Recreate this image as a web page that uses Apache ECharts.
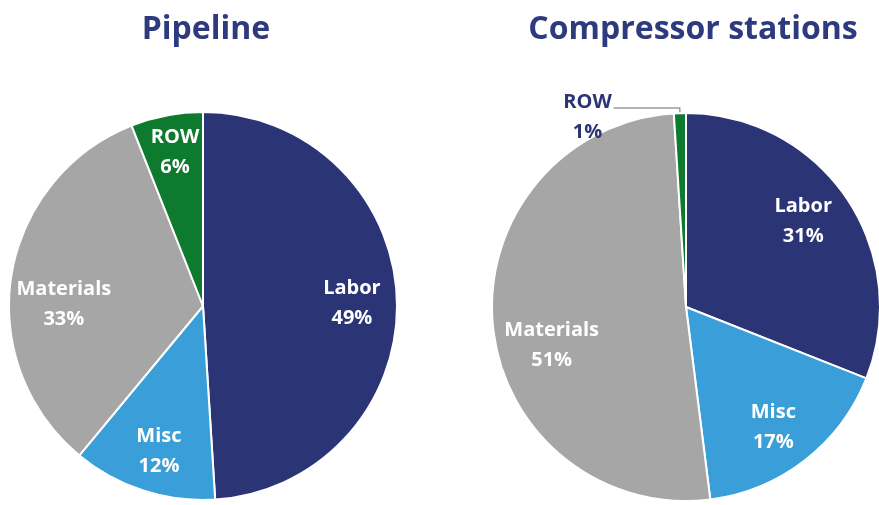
<!DOCTYPE html>
<html>
<head>
<meta charset="utf-8">
<script src="https://cdn.jsdelivr.net/npm/echarts@6/dist/echarts.min.js"></script>
<style>html,body{margin:0;padding:0;background:#fff}#c{width:879px;height:505px}</style>
</head>
<body>
<div id="c"></div>
<script>
const categories = ['Labor', 'Misc', 'Materials', 'ROW'];
const pipelineValues = [49, 12, 33, 6];
const compressorValues = [31, 17, 51, 1];
const titles = ['Pipeline', 'Compressor stations'];
const colors = ['#2B3576', '#3A9FD8', '#A6A6A6', '#0E7A2E'];

const font = '"Open Sans", "Noto Sans", sans-serif';
const R = 194;
const centers = [[203, 306], [686, 307]];
// small label nudges (pixels) per pie, per category index
const nudges = [
  [[0, 2], [2, 4], [8, 22], [0, -7]],
  [[-6, -2], [-4, 3], [14, 24], [0, 0]]
];

function mainSeries(values, idx) {
  return {
    type: 'pie',
    center: centers[idx],
    radius: [0, R],
    startAngle: 90,
    clockwise: true,
    avoidLabelOverlap: false,
    silent: true,
    itemStyle: { borderColor: '#fff', borderWidth: 2 },
    label: { show: false },
    labelLine: { show: false },
    data: categories.map((c, i) => {
      const d = { name: c, value: values[i], itemStyle: { color: colors[i] } };
      if (idx === 1 && c === 'ROW') {
        d.label = {
          show: true, position: 'outside', color: '#2B3576', fontWeight: 'bold',
          fontFamily: font, fontSize: 20, lineHeight: 30,
          formatter: p => '{a|' + p.name + '}\n{a|' + p.value + '%}',
          rich: { a: { align: 'center', color: '#2B3576', fontWeight: 'bold', fontFamily: font, fontSize: 20, lineHeight: 30 } },
          padding: [18, 0, 0, 0],
          distanceToLabelLine: 2
        };
        d.labelLine = { show: true, length: 5, length2: 66, lineStyle: { color: '#999', width: 1.5 } };
      }
      return d;
    })
  };
}

function labelSeries(values, idx) {
  return {
    type: 'pie',
    center: centers[idx],
    radius: [98, R],
    startAngle: 90,
    clockwise: true,
    avoidLabelOverlap: false,
    silent: true,
    itemStyle: { color: 'rgba(0,0,0,0)', borderWidth: 0 },
    label: {
      show: true, position: 'inside', color: '#fff', fontWeight: 'bold',
      fontFamily: font, fontSize: 20, lineHeight: 30,
      formatter: p => p.name + '\n' + p.value + '%'
    },
    labelLine: { show: false },
    labelLayout: function (p) {
      const n = nudges[idx][p.dataIndex];
      return { dx: n[0], dy: n[1] };
    },
    data: categories.map((c, i) => {
      const d = { name: c, value: values[i] };
      if (idx === 1 && c === 'ROW') d.label = { show: false };
      return d;
    })
  };
}

const chart = echarts.init(document.getElementById('c'));
chart.setOption({
  animation: false,
  title: [
    { text: titles[0], left: 201, top: 9, textAlign: 'center',
      textStyle: { color: '#2E3A7E', fontSize: 32, fontWeight: 'bold', fontFamily: font } },
    { text: titles[1], left: 688, top: 9, textAlign: 'center',
      textStyle: { color: '#2E3A7E', fontSize: 32, fontWeight: 'bold', fontFamily: font } }
  ],
  series: [
    mainSeries(pipelineValues, 0),
    mainSeries(compressorValues, 1),
    labelSeries(pipelineValues, 0),
    labelSeries(compressorValues, 1)
  ]
});
</script>
</body>
</html>
